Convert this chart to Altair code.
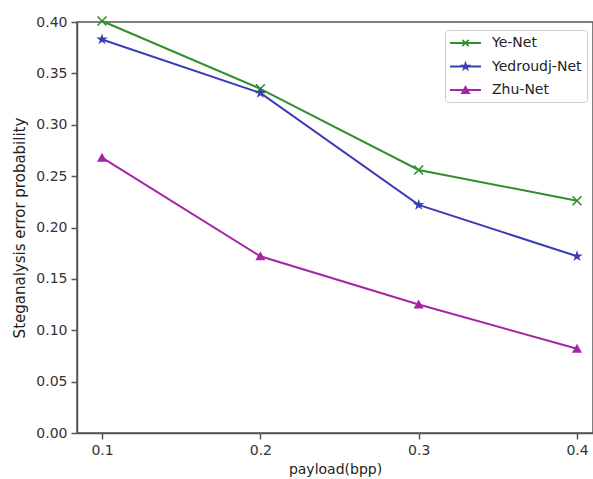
import math
import altair as alt
import pandas as pd

# ---- data ----
payload = [0.1, 0.2, 0.3, 0.4]
series = ["Ye-Net", "Yedroudj-Net", "Zhu-Net"]
ye_net = [0.401, 0.335, 0.256, 0.226]
yedroudj_net = [0.383, 0.331, 0.222, 0.172]
zhu_net = [0.268, 0.172, 0.125, 0.082]
x_ticks = [0.1, 0.2, 0.3, 0.4]
y_ticks = [0.0, 0.05, 0.10, 0.15, 0.20, 0.25, 0.30, 0.35, 0.40]

colors = ["#2f8f2f", "#3c3cb4", "#a624a6"]

rows = []
for name, vals in zip(series, [ye_net, yedroudj_net, zhu_net]):
    for p, v in zip(payload, vals):
        rows.append({"payload": p, "value": v, "series": name})
df = pd.DataFrame(rows)

# ---- marker path helpers (styles only) ----
def fmt(v):
    s = f"{v:.4f}"
    if "." in s:
        s = s.rstrip("0").rstrip(".")
    if s in ("", "-", "-0"):
        s = "0"
    return s

def poly(pts):
    area = 0.0
    for i in range(len(pts)):
        x1, y1 = pts[i]
        x2, y2 = pts[(i + 1) % len(pts)]
        area += x1 * y2 - x2 * y1
    if area < 0:
        pts = pts[::-1]
    s = "M" + fmt(pts[0][0]) + "," + fmt(pts[0][1])
    for x, y in pts[1:]:
        s += "L" + fmt(x) + "," + fmt(y)
    return s + "Z"

def star_pts(cx, cy, r):
    pts = []
    for k in range(10):
        a = math.radians(-90 + k * 36)
        rr = r if k % 2 == 0 else r * 0.382
        pts.append((cx + rr * math.cos(a), cy + rr * math.sin(a)))
    return pts

def tri_pts(cx, cy, h):
    return [(cx, cy - h), (cx + h, cy + h * 0.8), (cx - h, cy + h * 0.8)]

def xrect(cx, cy, L, t, sgn):
    dx, dy = 1 / math.sqrt(2), sgn / math.sqrt(2)
    nx, ny = dy, -dx
    return [(cx + dx * L + nx * t, cy + dy * L + ny * t),
            (cx + dx * L - nx * t, cy + dy * L - ny * t),
            (cx - dx * L - nx * t, cy - dy * L - ny * t),
            (cx - dx * L + nx * t, cy - dy * L + ny * t)]

# plot markers (unit box)
x_marker = "M-1,-1L1,1M-1,1L1,-1"
star_marker = poly(star_pts(0, 0, 1))
tri_marker = poly(tri_pts(0, 0, 1))

# legend symbols: line + marker (unit = 8 px for size 256)
u = 8.0
x0 = -1.0
x1 = x0 + 31 / u
cxm = (x0 + x1) / 2
lt = 0.9 / u
line_path = poly([(x0, -lt), (x1, -lt), (x1, lt), (x0, lt)])
leg_ye = line_path + poly(xrect(cxm, 0, 4.5 / u, 0.8 / u, 1)) + poly(xrect(cxm, 0, 4.5 / u, 0.8 / u, -1))
leg_yed = line_path + poly(star_pts(cxm, 0, 6 / u))
leg_zhu = line_path + poly(tri_pts(cxm, 0, 5 / u))

color_scale = alt.Scale(domain=series, range=colors)
x_scale = alt.Scale(domain=[0.0842, 0.4101], nice=False, zero=False)
y_scale = alt.Scale(domain=[0, 0.4], nice=False, zero=True)
y_title = "Steganalysis error probability"

x_enc = alt.X(
    "payload:Q", scale=x_scale,
    axis=alt.Axis(values=x_ticks, format=".1f", title="payload(bpp)", grid=False,
                  tickSize=6, labelPadding=4, titlePadding=5),
)
y_axis = alt.Axis(values=y_ticks, format=".2f", title=y_title,
                  grid=False, tickSize=6, labelPadding=4, titlePadding=8,
                  titleFontSize=15)
y_enc = alt.Y("value:Q", scale=y_scale, axis=y_axis)

base = alt.Chart(df)

# legend carrier: its points sit outside the y domain and are clipped away
legend_layer = base.transform_calculate(
    hidden="datum.value + 10"
).mark_point(
    filled=True, size=256, opacity=1, clip=True
).encode(
    x=x_enc,
    y=alt.Y("hidden:Q", scale=y_scale, axis=y_axis),
    fill=alt.Fill(
        "series:N", scale=alt.Scale(domain=series, range=colors),
        legend=alt.Legend(
            title=None, orient="none", legendX=368, legendY=8,
            labelFont="DejaVu Sans", labelFontSize=14, labelColor="#222222",
            strokeColor="#cccccc", fillColor="white", cornerRadius=3,
            padding=5, rowPadding=8.5, labelOffset=26, symbolSize=256,
            symbolStrokeWidth=0, symbolOpacity=1,
        ),
    ),
    shape=alt.Shape("series:N", scale=alt.Scale(domain=series, range=[leg_ye, leg_yed, leg_zhu])),
)

lines = base.mark_line(strokeWidth=2).encode(
    x=x_enc, y=y_enc,
    color=alt.Color("series:N", scale=color_scale, legend=None),
)

def markers(name, shape, size, filled):
    return base.transform_filter(alt.datum.series == name).mark_point(
        shape=shape, size=size, filled=filled, opacity=1, strokeWidth=1.6
    ).encode(
        x=x_enc, y=y_enc,
        color=alt.Color("series:N", scale=color_scale, legend=None),
    )

m_ye = markers("Ye-Net", x_marker, 81, False)
m_yed = markers("Yedroudj-Net", star_marker, 144, True)
m_zhu = markers("Zhu-Net", tri_marker, 100, True)

chart = alt.layer(legend_layer, lines, m_ye, m_yed, m_zhu).properties(
    width=516, height=411,
    background="white",
    autosize=alt.AutoSizeParams(type="none"),
    padding={"left": 77, "top": 22, "right": 0, "bottom": 46},
).configure_view(
    stroke="#555555", strokeWidth=1.5,
).configure_axis(
    labelFont="DejaVu Sans", labelFontSize=14, labelColor="#333333",
    titleFont="DejaVu Sans", titleFontSize=14, titleColor="#222222", titleFontWeight="normal",
    domainColor="#555555", domainWidth=1.5, tickColor="#555555", tickWidth=1.5,
)

chart.save("out.html", embed_options={"renderer": "svg", "actions": False})
